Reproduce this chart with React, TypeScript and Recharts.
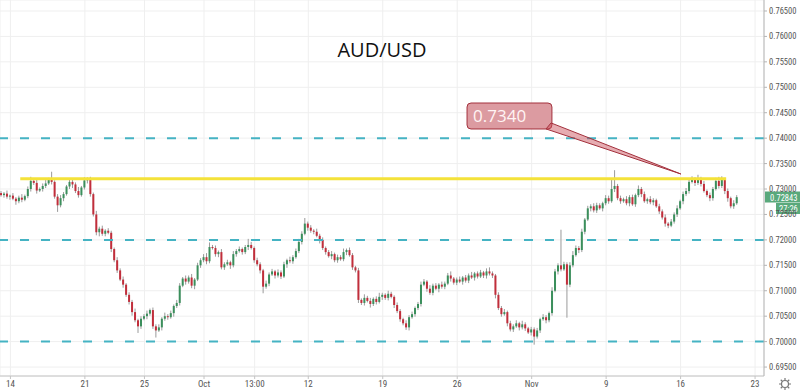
import React from 'react'
import { ComposedChart, Bar, XAxis, YAxis, CartesianGrid, ReferenceLine, ReferenceArea } from 'recharts'

// AUD/USD, 5 bars per trading day from Sep 11 to Nov 20.
// Closes are in pips above 0.7000; open = previous close.
const firstOpen = 292
const closes = [
  288, 291, 285, 287, 281, 276, 283, 279, 286, 300,
  316, 312, 297, 300, 306, 311, 318, 314, 285, 268,
  282, 290, 305, 314, 309, 296, 288, 303, 317, 319,
  290, 250, 215, 222, 212, 218, 214, 182, 160, 140,
  122, 112, 92, 78, 58, 42, 30, 45, 50, 55,
  62, 30, 22, 28, 45, 50, 48, 56, 70, 76,
  110, 124, 118, 126, 110, 122, 150, 160, 166, 158,
  186, 184, 172, 176, 146, 152, 156, 150, 172, 178,
  182, 176, 186, 190, 184, 160, 152, 140, 108, 114,
  132, 138, 130, 136, 128, 152, 160, 158, 166, 178,
  196, 212, 232, 224, 218, 216, 208, 200, 184, 176,
  168, 172, 160, 166, 162, 176, 180, 170, 146, 140,
  82, 76, 86, 80, 74, 84, 78, 88, 92, 86,
  94, 88, 72, 60, 44, 36, 28, 48, 54, 66,
  74, 112, 118, 104, 96, 110, 104, 112, 108, 114,
  130, 124, 116, 122, 118, 126, 120, 130, 126, 134,
  128, 136, 130, 138, 134, 130, 92, 66, 54, 58,
  36, 24, 30, 36, 28, 34, 26, 18, 24, 10,
  22, 44, 48, 42, 56, 100, 138, 150, 142, 152,
  112, 150, 170, 184, 180, 216, 240, 262, 266, 258,
  268, 262, 272, 282, 276, 300, 306, 282, 276, 280,
  272, 284, 270, 288, 300, 290, 276, 280, 274, 278,
  266, 256, 244, 232, 228, 236, 250, 262, 276, 290,
  296, 314, 318, 312, 320, 310, 296, 288, 282, 300,
  316, 306, 318, 296, 282, 266, 272, 284,
]
// wick lengths in pips above / below the body
const upperWick = [
  4, 3, 6, 2, 5, 3, 4, 7, 3, 5,
  8, 4, 6, 3, 5, 7, 4, 16, 3, 5,
  6, 4, 3, 7, 5, 4, 8, 3, 6, 4,
  5, 3, 7, 4, 6, 3, 5, 4, 3, 6,
  4, 6, 3, 5, 4, 7, 3, 5, 4, 6,
  3, 5, 4, 6, 3, 7, 4, 5, 3, 6,
  5, 3, 6, 4, 7, 3, 5, 4, 6, 8,
  9, 4, 5, 3, 6, 4, 5, 3, 6, 4,
  5, 3, 4, 12, 6, 3, 5, 4, 3, 6,
  4, 5, 3, 6, 4, 5, 3, 7, 4, 5,
  6, 5, 11, 4, 5, 3, 6, 4, 5, 3,
  4, 6, 3, 5, 4, 7, 3, 5, 4, 3,
  5, 3, 7, 4, 6, 3, 5, 8, 4, 3,
  6, 4, 3, 5, 4, 3, 6, 4, 5, 3,
  4, 6, 5, 3, 7, 4, 5, 3, 6, 4,
  5, 8, 3, 4, 6, 3, 5, 4, 7, 3,
  4, 5, 3, 6, 8, 4, 3, 5, 4, 6,
  3, 5, 4, 6, 3, 7, 4, 3, 5, 4,
  5, 3, 6, 4, 3, 7, 5, 4, 70, 5,
  4, 6, 8, 5, 4, 6, 3, 5, 4, 6,
  5, 4, 3, 6, 5, 20, 31, 4, 5, 3,
  6, 4, 5, 3, 7, 4, 5, 3, 6, 4,
  3, 5, 4, 6, 3, 5, 4, 6, 3, 5,
  6, 4, 7, 5, 8, 4, 6, 3, 5, 4,
  6, 8, 7, 4, 5, 3, 6, 4,
]
const lowerWick = [
  3, 5, 4, 6, 3, 7, 4, 5, 3, 4,
  5, 4, 6, 3, 5, 4, 3, 5, 4, 13,
  4, 6, 3, 5, 7, 4, 5, 3, 4, 6,
  5, 4, 6, 8, 4, 5, 3, 6, 4, 5,
  3, 6, 4, 5, 7, 4, 13, 5, 3, 6,
  4, 5, 14, 3, 6, 4, 5, 3, 7, 4,
  5, 3, 6, 4, 5, 7, 3, 5, 4, 6,
  4, 3, 5, 6, 4, 5, 3, 7, 4, 5,
  3, 5, 4, 6, 3, 5, 4, 6, 13, 4,
  5, 3, 6, 4, 5, 3, 7, 4, 5, 3,
  4, 5, 3, 6, 4, 5, 3, 7, 4, 5,
  3, 6, 4, 5, 3, 4, 6, 3, 5, 4,
  6, 4, 5, 3, 7, 4, 5, 3, 6, 4,
  5, 3, 6, 4, 5, 4, 5, 6, 3, 5,
  4, 5, 3, 6, 4, 5, 3, 7, 4, 5,
  3, 6, 4, 5, 3, 6, 4, 5, 3, 6,
  4, 3, 5, 6, 4, 5, 7, 4, 5, 3,
  6, 4, 5, 3, 6, 4, 5, 3, 6, 16,
  4, 5, 3, 6, 4, 5, 3, 6, 4, 3,
  65, 5, 4, 3, 6, 4, 5, 3, 6, 4,
  5, 3, 6, 4, 5, 3, 6, 4, 5, 3,
  4, 6, 3, 5, 4, 6, 3, 5, 4, 6,
  3, 5, 4, 6, 5, 3, 4, 5, 3, 6,
  4, 5, 3, 6, 4, 5, 3, 4, 6, 5,
  3, 5, 4, 6, 7, 4, 5, 3,
]

const priceTicks = [0.695, 0.7, 0.705, 0.71, 0.715, 0.72, 0.725, 0.73, 0.735, 0.74, 0.745, 0.75, 0.755, 0.76, 0.765]
const dateTicks = [3, 28, 48, 68, 85, 103, 128, 153, 178, 203, 228, 253]
const dateLabels = ['14', '21', '25', 'Oct', '13:00', '12', '19', '26', 'Nov', '9', '16', '23']
const supportLevels = [0.74, 0.72, 0.7]
const resistance = 0.732
const calloutText = '0.7340'
const lastPrice = 0.72843
const countdown = '27:26'

const toPrice = (p: number) => 0.7 + p / 10000

const data = closes.map((c, i) => {
  const o = i === 0 ? firstOpen : closes[i - 1]
  const hi = Math.max(o, c) + upperWick[i]
  const lo = Math.min(o, c) - lowerWick[i]
  return { i, open: toPrice(o), close: toPrice(c), range: [toPrice(lo), toPrice(hi)] }
})

const UP = '#3b8f5c'
const DOWN = '#c12e3b'
const WICK = '#9a9a9a'
const AXIS_FONT = "'Liberation Sans Narrow', 'Roboto Condensed', Roboto, sans-serif"

function Candle(props: any) {
  const { x, y, width, height, payload } = props
  if (!payload) return null
  const top0 = Math.min(y, y + height)
  const h = Math.abs(height)
  const [lo, hi] = payload.range
  const k = h / (hi - lo || 1)
  const bTop = top0 + (hi - Math.max(payload.open, payload.close)) * k
  const bBot = top0 + (hi - Math.min(payload.open, payload.close)) * k
  const up = payload.close >= payload.open
  const cx = x + width / 2
  return (
    <g>
      <line x1={cx} x2={cx} y1={top0} y2={top0 + h} stroke={WICK} strokeWidth={1} />
      <rect x={x} y={bTop} width={width} height={Math.max(1, bBot - bTop)} fill={up ? UP : DOWN} />
    </g>
  )
}

function Wedge(props: any) {
  const { x1, y1, x2, y2 } = props
  if (x1 == null) return null
  const pts = `${x1 + 3},${y1 - 3} ${x2},${y2} ${x1 - 2},${y1 + 3}`
  return <polygon points={pts} fill="rgba(200,70,82,0.45)" stroke="#a3303c" strokeWidth={1} />
}

function CalloutBox(props: any) {
  const { x, y, width, height } = props
  return (
    <g>
      <rect x={x} y={y} width={width} height={height} rx={4} ry={4} fill="#dc9ba1" stroke="#a3303c" strokeWidth={1} />
      <text x={x + 6} y={y + height / 2 + 6} fill="#fff4f4" fontSize={17} fontFamily="Open Sans, sans-serif">
        {calloutText}
      </text>
    </g>
  )
}

function PriceTag(props: any) {
  const vb = props.viewBox
  if (!vb) return null
  const x = vb.x + vb.width + 1
  const y = vb.y
  return (
    <g>
      <rect x={x} y={y - 5.5} width={36} height={11} fill="#5aa97c" />
      <text x={x + 5} y={y + 3.5} fill="#fff" fontSize={8.5} fontFamily={AXIS_FONT}>
        {lastPrice.toFixed(5)}
      </text>
      <rect x={x + 11} y={y + 6} width={25} height={11} fill="#5aa97c" />
      <text x={x + 14} y={y + 15} fill="#fff" fontSize={8.5} fontFamily={AXIS_FONT}>
        {countdown}
      </text>
    </g>
  )
}

export default function App() {
  return (
    <div style={{ position: 'absolute', left: 0, top: 0, width: 800, height: 392, background: '#fff', fontFamily: 'Roboto, sans-serif' }}>
      <ComposedChart width={800} height={392} data={data} margin={{ top: 0, right: 0, bottom: 0, left: 0 }}>
        <CartesianGrid stroke="#efefef" />
        <XAxis
          dataKey="i"
          type="number"
          domain={[-0.5, 256]}
          allowDataOverflow
          ticks={dateTicks}
          tickFormatter={(v: number) => dateLabels[dateTicks.indexOf(v)] ?? ''}
          height={16}
          tick={{ fontSize: 9, fill: '#555', fontFamily: AXIS_FONT }}
          tickSize={3}
          stroke="#c4c4c4"
          interval={0}
        />
        <YAxis
          orientation="right"
          type="number"
          domain={[0.69324, 0.76716]}
          allowDataOverflow
          ticks={priceTicks}
          tickFormatter={(v: number) => v.toFixed(5)}
          width={36}
          tick={{ fontSize: 8.5, fill: '#555', textAnchor: 'start', fontFamily: AXIS_FONT }}
          tickSize={3}
          stroke="#b5b5b5"
          interval={0}
        />
        {supportLevels.map(l => (
          <ReferenceLine key={l} y={l} stroke="#45b3c3" strokeWidth={2} strokeDasharray="9 12" />
        ))}
        <Bar dataKey="range" barSize={2} shape={<Candle />} isAnimationActive={false} />
        <ReferenceLine
          segment={[{ x: 6.3, y: resistance }, { x: 243.3, y: resistance }]}
          stroke="#f4e23a"
          strokeWidth={3}
        />
        <ReferenceLine
          segment={[{ x: 183.5, y: 0.7424 }, { x: 228.1, y: 0.73295 }]}
          shape={<Wedge />}
        />
        <ReferenceArea x1={156.3} x2={184.8} y1={0.7418} y2={0.74691} shape={<CalloutBox />} />
        <ReferenceLine y={lastPrice} stroke="none" label={<PriceTag />} />
      </ComposedChart>
      <div style={{ position: 'absolute', left: 0, width: 764, top: 36, textAlign: 'center', fontSize: 20, fontFamily: 'Open Sans, sans-serif', color: '#111' }}>
        AUD/USD
      </div>
      <svg style={{ position: 'absolute', left: 778, top: 377 }} width={14} height={14}>
        <circle cx={7} cy={7} r={3.5} fill="none" stroke="#777" strokeWidth={1.2} />
        {[0, 45, 90, 135, 180, 225, 270, 315].map(a => (
          <line key={a} x1={7 + 4 * Math.cos((a * Math.PI) / 180)} y1={7 + 4 * Math.sin((a * Math.PI) / 180)} x2={7 + 6 * Math.cos((a * Math.PI) / 180)} y2={7 + 6 * Math.sin((a * Math.PI) / 180)} stroke="#777" strokeWidth={1.2} />
        ))}
      </svg>
    </div>
  )
}
